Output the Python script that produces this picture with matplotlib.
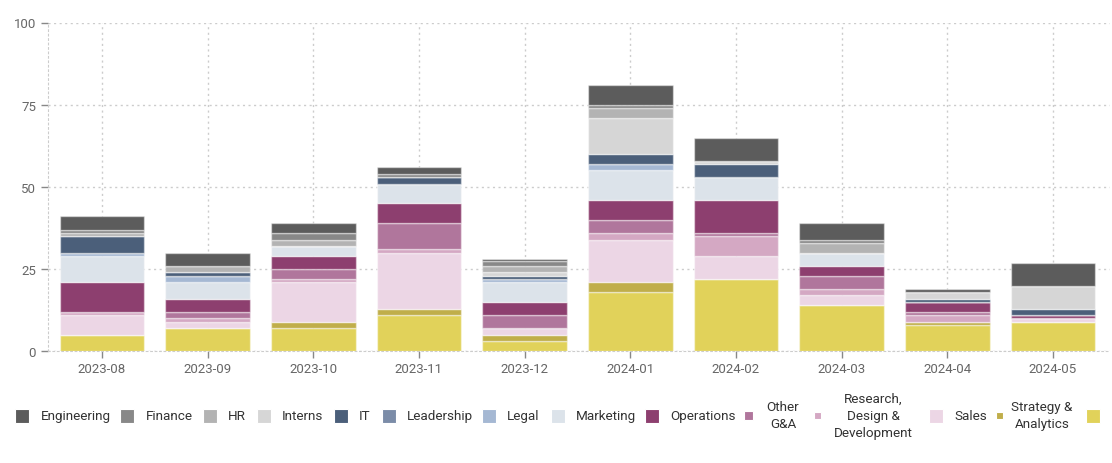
import matplotlib.pyplot as plt
from matplotlib.patches import Rectangle

plt.rcParams['font.family'] = ['Roboto', 'DejaVu Sans']

months = ['2023-08', '2023-09', '2023-10', '2023-11', '2023-12',
          '2024-01', '2024-02', '2024-03', '2024-04', '2024-05']

# department head counts per month
engineering = [4, 4, 3, 2, 0.5, 6, 7, 5, 1, 7]
finance = [1, 0, 2, 1, 1.5, 1, 0, 1, 0, 0]
hr = [1, 2, 2, 0, 2, 3, 0, 3, 0, 0]
interns = [0, 0, 0, 0, 1, 11, 1, 0, 2, 7]
it = [5, 1, 0, 2, 1, 3, 4, 0, 1, 2]
leadership = [0, 0, 0, 0, 0, 0, 0, 0, 0, 0]
legal = [1, 2, 0, 0, 1, 2, 0, 0, 0, 0]
marketing = [8, 5, 3, 6, 6, 9, 7, 4, 0, 0]
operations = [9, 4, 4, 6, 4, 6, 10, 3, 3, 1]
other_ga = [0, 2, 3, 8, 4, 4, 1, 4, 1, 0]
research = [1, 1, 1, 1, 0, 2, 6, 2, 2, 0]
sales = [6, 2, 12, 17, 2, 13, 7, 3, 0, 1]
strategy = [0, 0, 2, 2, 2, 3, 0, 0, 1, 0]
unknown = [5, 7, 7, 11, 3, 18, 22, 14, 8, 9]

labels = ['Engineering', 'Finance', 'HR', 'Interns', 'IT', 'Leadership', 'Legal',
          'Marketing', 'Operations', 'Other\nG&A', 'Research,\nDesign &\nDevelopment',
          'Sales', 'Strategy &\nAnalytics', 'Unknown']
series = [engineering, finance, hr, interns, it, leadership, legal,
          marketing, operations, other_ga, research, sales, strategy, unknown]
colors = ['#5c5c5c', '#888888', '#b3b3b3', '#d6d6d6', '#4b5f7a', '#7b8ca8', '#a5b8d3',
          '#dce3ea', '#8d3f6f', '#b0769c', '#d4a8c3', '#ecd6e5', '#c0ae4a', '#e1d25a']

fig = plt.figure(figsize=(11.12, 4.64), dpi=100)
ax = fig.add_axes([48 / 1112, 1 - 352.3 / 464, 1062 / 1112, (352.3 - 23.5) / 464])

x = list(range(len(months)))
bottom = [0] * len(months)
# stack from the last legend entry upwards
for vals, col in zip(series[::-1], colors[::-1]):
    ax.bar(x, vals, bottom=bottom, width=0.8, color=col,
           edgecolor=(1, 1, 1, 0.45), linewidth=1, zorder=3)
    bottom = [b + v for b, v in zip(bottom, vals)]

ax.set_ylim(0, 100)
ax.set_xlim(-0.51, 9.54)
ax.set_yticks([0, 25, 50, 75, 100])
ax.set_xticks(x)
ax.set_xticklabels(months)
ax.grid(True, color='#cccccc', linestyle=(0, (1.5, 2.5)), linewidth=1, zorder=0)
for s in ['top', 'right']:
    ax.spines[s].set_visible(False)
for s in ['left', 'bottom']:
    ax.spines[s].set_color('#cccccc')
    ax.spines[s].set_linestyle((0, (1.5, 2.5)))
ax.tick_params(colors='#888888', labelcolor='#666666', labelsize=9.5, length=5, width=1)
ax.tick_params(axis='x', pad=3)

# legend drawn by hand in pixel space so the last entry runs off the edge
lg = fig.add_axes([0, 0, 1, 1], zorder=5)
lg.set_xlim(0, 1112)
lg.set_ylim(464, 0)
lg.axis('off')
sq_x = [15, 120, 203, 257, 334, 382, 482, 551, 645, 744, 814, 929, 996, 1086]
sq_w = [14, 14, 14, 14, 14, 14, 14, 14, 14, 9, 7, 14, 7, 14]
txt_x = [41, 146, 228, 282, 359, 407, 507, 576, 670, 783, 873, 954, 1042, 1111]
cy = 416.5
for lab, col, sx, sw, tx in zip(labels, colors, sq_x, sq_w, txt_x):
    lg.add_patch(Rectangle((sx, cy - sw / 2), sw, sw, facecolor=col,
                           edgecolor='white', linewidth=0.8))
    multi = '\n' in lab
    lg.text(tx, cy, lab, ha='center' if multi else 'left', va='center',
            fontsize=9.7, color='#333333', linespacing=1.4, multialignment='center')

fig.savefig('out.png', dpi=100)
